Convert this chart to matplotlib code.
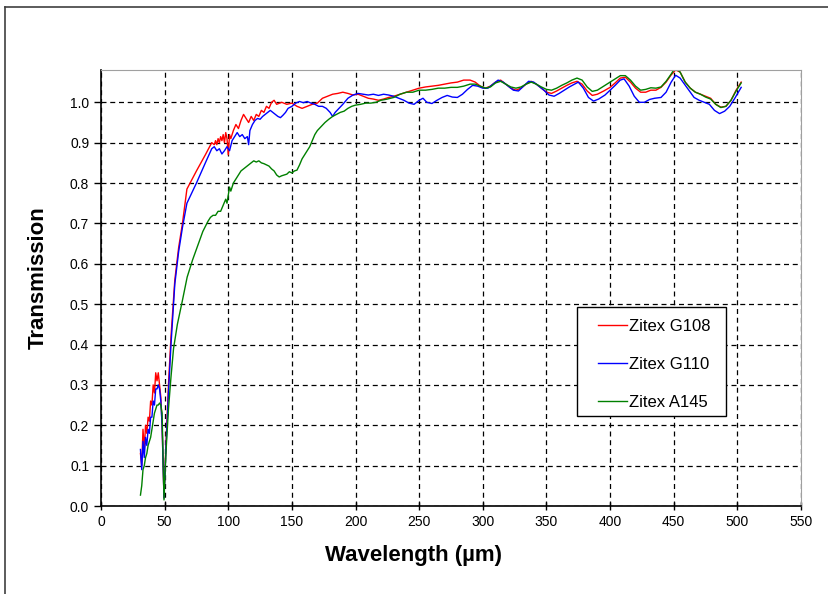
import matplotlib
matplotlib.use("Agg")
import matplotlib.pyplot as plt
from matplotlib.lines import Line2D
from matplotlib.patches import Rectangle

plt.rcParams['font.family'] = ['Liberation Sans', 'DejaVu Sans']

# Zitex G108
g108_x = [31, 32, 33, 34, 35, 36, 37, 38, 39, 40, 41, 42, 43, 44, 45, 46, 47, 48, 49.5,
          51, 53, 55, 58, 61, 64, 67.5, 75, 82, 87, 89, 90, 91, 92, 93, 94, 95, 96, 97, 98,
          99, 100, 101, 102, 104, 106, 108, 110, 112, 114, 116, 118, 120, 122, 124, 126,
          128, 130, 132, 134, 136, 138, 142, 146, 150, 154, 158, 162, 166, 170, 174, 178,
          182, 186, 190, 194, 198, 202, 206, 210, 214, 218, 222, 226, 230, 235, 240, 245,
          250, 255, 260, 265, 270, 275, 280, 285, 290, 294, 298, 302, 306, 310, 314, 318,
          322, 326, 330, 334, 338, 342, 346, 350, 354, 358, 362, 366, 370, 374, 378, 382,
          386, 390, 395, 400, 404, 408, 412, 416, 420, 424, 428, 432, 436, 440, 444, 448,
          451.5, 455, 459, 463, 467, 471, 475, 479, 483, 487, 491, 495, 499, 503]
g108_y = [0.13, 0.10, 0.19, 0.14, 0.20, 0.18, 0.22, 0.21, 0.26, 0.25, 0.30, 0.28, 0.33, 0.31,
          0.33, 0.30, 0.27, 0.20, 0.02, 0.15, 0.30, 0.42, 0.56, 0.64, 0.70, 0.785, 0.83, 0.87,
          0.90, 0.895, 0.905, 0.895, 0.91, 0.90, 0.915, 0.905, 0.92, 0.90, 0.925, 0.91, 0.87,
          0.92, 0.91, 0.93, 0.945, 0.935, 0.955, 0.97, 0.96, 0.95, 0.965, 0.955, 0.97, 0.965,
          0.98, 0.975, 0.99, 0.985, 1.00, 1.005, 0.995, 1.0, 0.995, 0.998, 0.99, 0.985, 0.99,
          0.995, 0.998, 1.01, 1.015, 1.02, 1.022, 1.025, 1.022, 1.018, 1.02, 1.015, 1.01,
          1.008, 1.005, 1.008, 1.012, 1.015, 1.02, 1.025, 1.03, 1.035, 1.038, 1.04, 1.042,
          1.045, 1.048, 1.05, 1.055, 1.055, 1.05, 1.04, 1.035, 1.04, 1.05, 1.055, 1.045,
          1.035, 1.03, 1.035, 1.045, 1.052, 1.045, 1.035, 1.025, 1.022, 1.028, 1.035, 1.042,
          1.048, 1.052, 1.045, 1.028, 1.017, 1.02, 1.028, 1.037, 1.048, 1.06, 1.062, 1.05,
          1.035, 1.025, 1.025, 1.03, 1.03, 1.037, 1.05, 1.068, 1.08, 1.075, 1.05, 1.035,
          1.025, 1.02, 1.015, 1.01, 0.995, 0.988, 0.99, 1.005, 1.03, 1.05]

# Zitex G110
g110_x = [31, 32, 33, 34, 35, 36, 37, 38, 39, 40, 41, 42, 43, 44, 45, 46, 47, 48, 49.5,
          51, 53, 55, 58, 61, 64, 67.5, 75, 82, 87, 89, 91, 93, 95, 97, 99, 101, 103, 105,
          107, 109, 111, 113, 115, 116, 117, 119, 121, 123, 125, 127, 129, 131, 133, 135,
          137, 139, 141, 143, 145, 147, 150, 153, 156, 159, 162, 165, 168, 171, 174, 177,
          180, 182, 184, 187, 190, 194, 198, 202, 206, 210, 214, 218, 222, 226, 230, 234,
          238, 242, 246, 250, 253, 256, 260, 264, 268, 272, 276, 280, 284, 288, 292, 296,
          300, 304, 308, 312, 316, 320, 324, 328, 332, 336, 340, 344, 348, 352, 356, 360,
          364, 368, 372, 375, 379, 383, 387, 391, 396, 400, 404, 408, 411, 415, 419, 423,
          427, 431, 435, 440, 444, 448, 451.5, 455, 458, 462, 466, 470, 474, 478, 482, 486,
          490, 494, 498, 503]
g110_y = [0.14, 0.09, 0.16, 0.12, 0.17, 0.15, 0.19, 0.18, 0.22, 0.22, 0.26, 0.25, 0.29, 0.29,
          0.30, 0.29, 0.26, 0.20, 0.02, 0.14, 0.28, 0.40, 0.55, 0.63, 0.69, 0.75, 0.80, 0.85,
          0.885, 0.89, 0.88, 0.885, 0.872, 0.88, 0.89, 0.88, 0.905, 0.915, 0.925, 0.915, 0.92,
          0.91, 0.915, 0.895, 0.93, 0.945, 0.955, 0.96, 0.958, 0.965, 0.97, 0.975, 0.98,
          0.975, 0.97, 0.965, 0.962, 0.968, 0.975, 0.985, 0.99, 0.998, 1.002, 0.999, 1.002,
          0.998, 0.995, 0.99, 0.99, 0.985, 0.975, 0.965, 0.975, 0.985, 0.995, 1.01, 1.018,
          1.022, 1.02, 1.018, 1.02, 1.017, 1.02, 1.018, 1.015, 1.01, 1.005, 0.998, 0.995,
          1.005, 1.01, 1.0, 0.997, 1.005, 1.012, 1.017, 1.013, 1.012, 1.02, 1.032, 1.042,
          1.04, 1.035, 1.035, 1.045, 1.055, 1.05, 1.04, 1.03, 1.028, 1.04, 1.052, 1.05,
          1.04, 1.03, 1.018, 1.015, 1.022, 1.03, 1.038, 1.045, 1.05, 1.035, 1.012, 1.003,
          1.008, 1.018, 1.03, 1.042, 1.055, 1.058, 1.04, 1.015, 1.0, 1.0, 1.007, 1.01, 1.012,
          1.025, 1.05, 1.067, 1.06, 1.047, 1.03, 1.012, 1.005, 1.0, 0.995, 0.98, 0.972,
          0.978, 0.99, 1.01, 1.037]

# Zitex A145
a145_x = [31, 32, 33, 34, 35, 36, 37, 38, 39, 40, 41, 42, 43, 44, 45, 46, 47, 48, 49.5,
          51, 53, 55, 57, 60, 63.7, 67.7, 72, 76, 80, 84, 86, 88, 90, 92, 94, 96, 98, 99,
          100, 101, 102, 104, 106, 108, 110, 112, 114, 116, 118, 120, 122, 124, 126, 128,
          130, 132, 134, 136, 138, 140, 142, 144, 146, 148, 150, 152, 154, 156, 158, 160,
          162, 164, 166, 168, 170, 173, 176, 179, 182, 185, 188, 191, 194, 197, 200, 204,
          208, 212, 216, 220, 225, 230, 235, 240, 245, 250, 255, 260, 265, 270, 275, 280,
          285, 290, 294, 298, 302, 306, 310, 314, 318, 322, 326, 330, 334, 338, 342, 346,
          350, 354, 358, 362, 366, 370, 374, 378, 382, 386, 390, 395, 400, 404, 408, 412,
          416, 420, 424, 428, 432, 436, 440, 444, 448, 451, 455, 459, 463, 467, 471, 475,
          479, 483, 487, 491, 495, 499, 503]
a145_y = [0.027, 0.05, 0.09, 0.10, 0.12, 0.13, 0.15, 0.16, 0.17, 0.19, 0.21, 0.23, 0.24,
          0.25, 0.25, 0.255, 0.25, 0.23, 0.015, 0.13, 0.24, 0.32, 0.39, 0.45, 0.505, 0.567,
          0.61, 0.645, 0.68, 0.705, 0.715, 0.72, 0.72, 0.73, 0.73, 0.745, 0.76, 0.75, 0.77,
          0.79, 0.78, 0.80, 0.81, 0.82, 0.83, 0.835, 0.84, 0.845, 0.85, 0.855, 0.852, 0.855,
          0.85, 0.848, 0.845, 0.842, 0.835, 0.83, 0.82, 0.815, 0.818, 0.82, 0.822, 0.828,
          0.825, 0.83, 0.832, 0.845, 0.86, 0.87, 0.88, 0.89, 0.905, 0.92, 0.93, 0.94, 0.95,
          0.958, 0.965, 0.97, 0.975, 0.978, 0.985, 0.99, 0.993, 0.995, 0.998, 0.998, 1.0,
          1.005, 1.008, 1.012, 1.02, 1.025, 1.025, 1.03, 1.03, 1.032, 1.035, 1.035, 1.037,
          1.037, 1.04, 1.045, 1.045, 1.04, 1.035, 1.038, 1.048, 1.052, 1.045, 1.038, 1.035,
          1.038, 1.045, 1.05, 1.045, 1.038, 1.032, 1.03, 1.035, 1.042, 1.048, 1.055, 1.06,
          1.055, 1.038, 1.027, 1.03, 1.04, 1.05, 1.058, 1.066, 1.066, 1.055, 1.04, 1.03,
          1.032, 1.036, 1.035, 1.038, 1.052, 1.07, 1.085, 1.075, 1.05, 1.035, 1.025, 1.02,
          1.013, 1.008, 0.995, 0.987, 0.99, 1.005, 1.028, 1.048]

x_ticks = list(range(0, 551, 50))
y_ticks = [i / 10 for i in range(11)]

fig = plt.figure(figsize=(8.29, 5.94), dpi=100)
ax = fig.add_axes([101 / 829, 1 - 506 / 594, 700 / 829, 436 / 594])

ax.plot(g108_x, g108_y, color='#ff0000', lw=1.0, label='Zitex G108')
ax.plot(g110_x, g110_y, color='#0000ff', lw=1.0, label='Zitex G110')
ax.plot(a145_x, a145_y, color='#008000', lw=1.0, label='Zitex A145')

ax.set_xlim(0, 550)
ax.set_ylim(0, 1.08)
ax.set_xticks(x_ticks)
ax.set_yticks(y_ticks)
ax.set_yticklabels([f'{v:.1f}' for v in y_ticks])
ax.grid(True, color='black', linestyle=(0, (4, 3)), linewidth=0.9)
ax.tick_params(axis='x', direction='inout', length=6, labelsize=10, width=1)
ax.tick_params(axis='y', direction='out', length=5, labelsize=10, width=1)

for side in ['top', 'right']:
    ax.spines[side].set_color('#a0a0a0')
for side in ['left', 'bottom']:
    ax.spines[side].set_color('black')
    ax.spines[side].set_linewidth(1.2)

fig.text(414 / 829, 1 - 556 / 594, 'Wavelength (µm)', ha='center', va='center',
         fontsize=16, fontweight='bold')
fig.text(38 / 829, 1 - 278 / 594, 'Transmission', ha='center', va='center',
         rotation=90, fontsize=16, fontweight='bold')

# legend box drawn separately so the padding matches
box = Rectangle(((577 - 101) / 700, (506 - 416) / 436), 149 / 700, 109 / 436,
                transform=ax.transAxes, facecolor='white', edgecolor='black',
                lw=1.0, zorder=4.5, clip_on=False)
ax.add_patch(box)
leg = ax.legend(loc='upper left', bbox_to_anchor=((598 - 101) / 700, (506 - 319) / 436),
                fontsize=12, frameon=False, handlelength=1.75, handletextpad=0.12,
                labelspacing=1.38, borderpad=0, borderaxespad=0)

# outer chart border
fig.add_artist(Line2D([5 / 829, 1], [1 - 7 / 594, 1 - 7 / 594], color='#404040', lw=1.2))
fig.add_artist(Line2D([5 / 829, 5 / 829], [0, 1 - 7 / 594], color='#404040', lw=1.2))

fig.savefig('out.png', dpi=100)
